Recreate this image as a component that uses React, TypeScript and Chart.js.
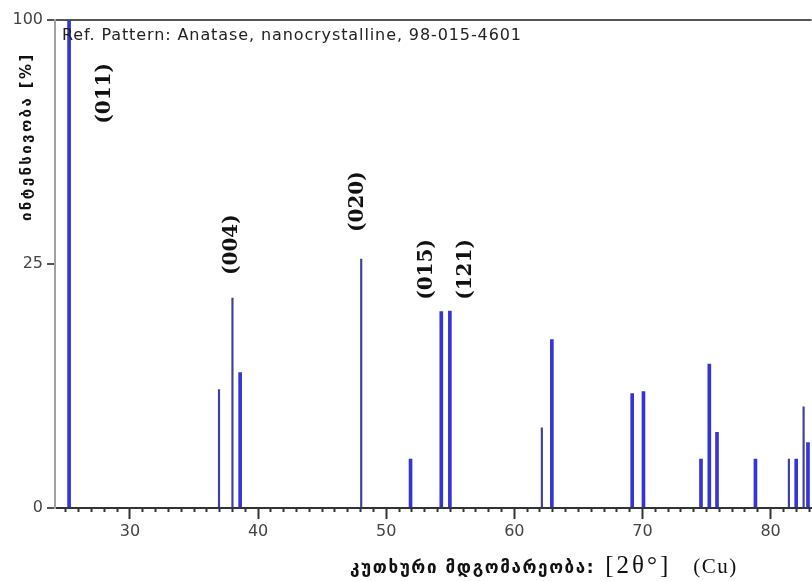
import React, { useEffect, useRef } from 'react';
import { Chart, registerables, LinearScale } from 'chart.js';

Chart.register(...registerables);

// ---- data ----
const peakAngles = [25.25, 36.95, 38.0, 38.6, 48.05, 51.9, 54.3, 54.97, 62.15, 62.93, 69.2, 70.08, 74.57, 75.22, 75.82, 78.82, 81.43, 82.0, 82.58, 82.92];
const peakIntensities = [100, 5.9, 18.5, 7.7, 26, 1.0, 16.2, 16.3, 2.7, 11.9, 5.5, 5.7, 1.0, 8.7, 2.4, 1.0, 1.0, 1.0, 4.3, 1.8];
const peakStrong = [true, false, false, true, false, true, true, true, false, true, true, true, true, true, true, true, false, true, false, true];

const hklLabels = ['(011)', '(004)', '(020)', '(015)', '(121)'];
const hklAngles = [28.05, 37.97, 47.75, 53.2, 56.25];
const hklBaseIntensity = [62, 22.8, 32, 18.2, 18.2];

const yTickValues = [0, 25, 100];
const xMajorStep = 10;

const refText = 'Ref. Pattern: Anatase, nanocrystalline, 98-015-4601';
const yTitle = 'ინტენსივობა [%]';
const xTitleGeo = 'კუთხური მდგომარეობა:';
const xTitleSym = '[2θ°]';
const xTitleRad = '(Cu)';

// ---- square-root intensity scale ----
class SqrtScale extends LinearScale {
  static id = 'sqrt';
  static defaults = LinearScale.defaults;
  buildTicks() {
    return yTickValues.map((v) => ({ value: v }));
  }
  getPixelForValue(value: number) {
    const a = Math.sqrt(Math.max(0, (this as any).min));
    const b = Math.sqrt(Math.max(0, (this as any).max));
    const s = Math.sqrt(Math.max(0, value));
    return (this as any).getPixelForDecimal((s - a) / (b - a));
  }
  getValueForPixel(pixel: number) {
    const a = Math.sqrt(Math.max(0, (this as any).min));
    const b = Math.sqrt(Math.max(0, (this as any).max));
    const d = (this as any).getDecimalForPixel(pixel);
    const v = a + d * (b - a);
    return v * v;
  }
}
Chart.register(SqrtScale as any);

const textPlugin = {
  id: 'xrdTexts',
  afterDraw(chart: any) {
    const { ctx, chartArea, scales } = chart;
    const x = scales.x;
    const y = scales.y;
    ctx.save();
    // reference pattern caption
    ctx.fillStyle = '#222';
    ctx.font = '16px "DejaVu Sans"';
    ctx.letterSpacing = '0.9px';
    ctx.textAlign = 'left';
    ctx.textBaseline = 'alphabetic';
    ctx.fillText(refText, chartArea.left + 7, chartArea.top + 20);
    ctx.letterSpacing = '0px';

    // hkl labels
    ctx.fillStyle = '#111';
    ctx.font = 'bold 20px "DejaVu Serif"';
    hklLabels.forEach((t, i) => {
      const px = x.getPixelForValue(hklAngles[i]);
      const py = y.getPixelForValue(hklBaseIntensity[i]);
      ctx.save();
      ctx.translate(px, py);
      ctx.rotate(-Math.PI / 2);
      ctx.textAlign = 'left';
      ctx.textBaseline = 'middle';
      ctx.fillText(t, 0, 0);
      ctx.restore();
    });

    // y title
    ctx.fillStyle = '#111';
    ctx.font = 'bold 15px "DejaVu Sans"';
    ctx.letterSpacing = '2.4px';
    ctx.save();
    ctx.translate(27, chartArea.top + 201);
    ctx.rotate(-Math.PI / 2);
    ctx.textAlign = 'left';
    ctx.textBaseline = 'middle';
    ctx.fillText(yTitle, 0, 0);
    ctx.restore();

    // x title
    const base = 573;
    let cx = 350;
    ctx.textAlign = 'left';
    ctx.textBaseline = 'alphabetic';
    ctx.font = 'bold 17px "DejaVu Sans"';
    ctx.letterSpacing = '1.6px';
    ctx.fillText(xTitleGeo, cx, base);
    cx += ctx.measureText(xTitleGeo).width + 10;
    ctx.letterSpacing = '3px';
    ctx.font = '25px "Liberation Serif"';
    ctx.fillText(xTitleSym, cx, base);
    cx += ctx.measureText(xTitleSym).width + 22;
    ctx.letterSpacing = '1.5px';
    ctx.font = '21px "Liberation Serif"';
    ctx.fillText(xTitleRad, cx, base);
    ctx.restore();
  },
};

export default function App() {
  const ref = useRef<HTMLCanvasElement | null>(null);
  useEffect(() => {
    if (!ref.current) return;
    const strong = peakAngles
      .map((a, i) => ({ x: a, y: peakIntensities[i], s: peakStrong[i] }))
      .filter((p) => p.s)
      .map(({ x, y }) => ({ x, y }));
    const weak = peakAngles
      .map((a, i) => ({ x: a, y: peakIntensities[i], s: peakStrong[i] }))
      .filter((p) => !p.s)
      .map(({ x, y }) => ({ x, y }));
    const chart = new Chart(ref.current, {
      type: 'bar',
      data: {
        datasets: [
          { label: 'strong', data: strong, backgroundColor: '#3535d6', barThickness: 3, grouped: false, borderWidth: 0 } as any,
          { label: 'weak', data: weak, backgroundColor: '#3f3fa0', barThickness: 1.5, grouped: false, borderWidth: 0 } as any,
        ],
      },
      options: {
        animation: false,
        responsive: false,
        events: [],
        layout: { padding: { left: 0, top: 20, right: 0, bottom: 0 } },
        plugins: { legend: { display: false }, tooltip: { enabled: false } },
        scales: {
          x: {
            type: 'linear',
            min: 24.15,
            max: 83.2,
            offset: false,
            afterBuildTicks: (scale: any) => {
              const ticks = [];
              for (let v = Math.ceil(scale.min); v <= Math.floor(scale.max); v++) ticks.push({ value: v });
              scale.ticks = ticks;
            },
            afterFit: (scale: any) => {
              scale.height = 73;
            },
            ticks: {
              autoSkip: false,
              maxRotation: 0,
              padding: 3,
              color: '#444',
              font: { family: 'DejaVu Sans', size: 16 },
              callback: (v: any) => (Number(v) % xMajorStep === 0 ? String(v) : ''),
            },
            grid: {
              display: true,
              drawOnChartArea: false,
              offset: false,
              tickLength: 11,
              tickColor: '#333',
              tickWidth: 2,
              tickBorderDash: (ctx: any) => (ctx.tick && ctx.tick.value % xMajorStep === 0 ? [] : [3, 30]),
            } as any,
            border: { display: true, color: '#333', width: 2 },
          },
          y: {
            type: 'sqrt' as any,
            min: 0,
            max: 100,
            afterFit: (scale: any) => {
              scale.width = 55;
            },
            ticks: {
              padding: 4,
              color: '#444',
              font: { family: 'DejaVu Sans', size: 16 },
            },
            grid: {
              display: true,
              drawOnChartArea: true,
              tickLength: 8,
              lineWidth: 2,
              tickWidth: 2,
              tickColor: '#555',
              color: (ctx: any) => (ctx.tick && ctx.tick.value === 100 ? '#555' : 'rgba(0,0,0,0)'),
            } as any,
            border: { display: true, color: '#a0a0a0', width: 2 },
          } as any,
        },
      },
      plugins: [textPlugin],
    });
    return () => chart.destroy();
  }, []);
  return (
    <div style={{ position: 'fixed', left: 0, top: 0, width: 812, height: 581, background: '#fff' }}>
      <canvas ref={ref} width={812} height={581} />
    </div>
  );
}
